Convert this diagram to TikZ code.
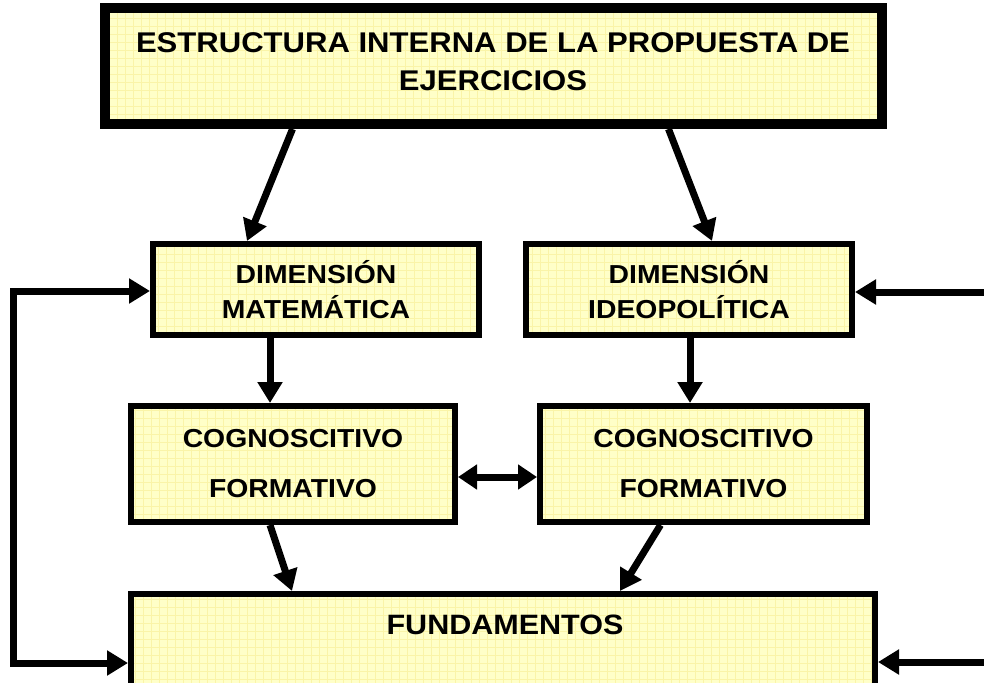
\documentclass[tikz,border=0pt]{standalone}
\usepackage{fontspec}
\setmainfont{Liberation Sans}[FakeStretch=1.09]
\usetikzlibrary{arrows.meta}
\definecolor{fillc}{HTML}{FFFFC8}
\definecolor{gridc}{HTML}{FAF4A8}
\tikzset{
  gridfill/.style={fill=fillc, path picture={\draw[gridc, line width=0.5pt] ([xshift=-20pt,yshift=-20pt]path picture bounding box.south west) grid[step=8pt] ([xshift=20pt,yshift=20pt]path picture bounding box.north east);}},
  box/.style={draw=black, line width=6pt, gridfill, rectangle, inner sep=0pt, align=center, font=\fontsize{26}{35}\selectfont\bfseries, text=black},
  topbox/.style={box, line width=10pt},
  cogbox/.style={box, font=\fontsize{26}{50}\selectfont\bfseries},
  lbl/.style={inner sep=0pt, align=center, text=black},
  arr/.style={line width=7pt, line join=miter, -{Triangle[length=21pt,width=24pt]}},
  darr/.style={line width=7pt, {Triangle[length=19pt,width=24pt]}-{Triangle[length=19pt,width=24pt]}},
}
\begin{document}
\begin{tikzpicture}[x=1pt,y=-1pt]
\useasboundingbox (0,0) rectangle (984,682);
\clip (0,0) rectangle (984,682);
\node[topbox, minimum width=777pt, minimum height=116pt] (top) at (493.5,66) {};
\node[lbl, font=\fontsize{28.5}{37.5}\selectfont\bfseries] (toptxt) at (493,61.5) {ESTRUCTURA INTERNA DE LA PROPUESTA DE\\EJERCICIOS};
\node[box, minimum width=326pt, minimum height=91pt] (mat) at (316,289.5) {DIMENSIÓN\\MATEMÁTICA};
\node[box, minimum width=326pt, minimum height=91pt] (ideo) at (689,289.5) {DIMENSIÓN\\IDEOPOLÍTICA};
\node[cogbox, minimum width=324pt, minimum height=116pt] (cogl) at (293,464) {COGNOSCITIVO\\FORMATIVO};
\node[cogbox, minimum width=327pt, minimum height=116pt] (cogr) at (703.5,464) {COGNOSCITIVO\\FORMATIVO};
\node[box, minimum width=744pt, minimum height=123pt] (fund) at (503,655.5) {};
\node[lbl, font=\fontsize{28}{32}\selectfont\bfseries] (fundlbl) at (505,625) {FUNDAMENTOS};
% arrows
\draw[arr] ([xshift=-201pt]top.south) -- ([xshift=-69pt]mat.north);
\draw[arr] ([xshift=175pt]top.south) -- ([xshift=23pt]ideo.north);
\draw[arr] (mat.south -| 270,0) -- (cogl.north -| 270,0);
\draw[arr] (ideo.south -| 690,0) -- (cogr.north -| 690,0);
\draw[darr] (cogl.east |- 0,477) -- (cogr.west |- 0,477);
\draw[arr] ([xshift=-23pt]cogl.south) -- ([xshift=-211pt]fund.north);
\draw[arr] ([xshift=-43pt]cogr.south) -- ([xshift=117pt]fund.north);
\coordinate (lt) at (13,291);
\coordinate (lb) at (13,663);
\draw[line width=7pt, line join=miter, {Triangle[length=21pt,width=24pt]}-{Triangle[length=21pt,width=24pt]}] (mat.west |- lt) -- (lt) -- (lb) -- (fund.west |- lb);
\coordinate (rt) at (995,292);
\coordinate (rb) at (995,662);
\draw[arr] (rt) -- (ideo.east |- rt);
\draw[arr] (rb) -- (fund.east |- rb);
\end{tikzpicture}
\end{document}
